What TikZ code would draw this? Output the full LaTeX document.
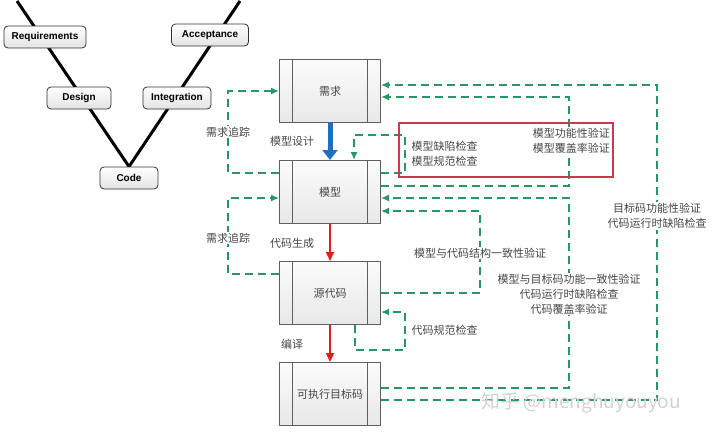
\documentclass[tikz,border=0pt]{standalone}
\usepackage{fontspec}
\setsansfont{Liberation Sans}
\newfontfamily\cjk{Noto Sans CJK SC}
\usepackage{xcolor}
\usetikzlibrary{arrows.meta,backgrounds}

\definecolor{tracegreen}{RGB}{38,150,100}
\definecolor{flowred}{RGB}{225,30,30}
\definecolor{flowblue}{RGB}{30,110,195}
\definecolor{chkred}{RGB}{195,60,80}
\definecolor{boxgray}{RGB}{95,95,95}
\definecolor{txtgray}{RGB}{70,70,70}

\tikzset{
  stage/.style={draw=boxgray, line width=1pt, top color=gray!3, bottom color=gray!18,
    minimum width=101pt, minimum height=63pt, inner sep=0pt,
    path picture={
      \draw[boxgray, line width=1pt] ([xshift=13pt]path picture bounding box.north west)
        -- ([xshift=13pt]path picture bounding box.south west);
      \draw[boxgray, line width=1pt] ([xshift=-13pt]path picture bounding box.north east)
        -- ([xshift=-13pt]path picture bounding box.south east);}},
  vbox/.style={draw=black!80, line width=0.8pt, rounded corners=4pt, top color=white,
    bottom color=gray!22, minimum height=22pt, inner sep=0pt, text=black,
    font=\sffamily\bfseries\fontsize{10}{12}\selectfont},
  vline/.style={line width=3pt, black},
  trace/.style={tracegreen, line width=1.4pt, dash pattern=on 8pt off 5pt},
  chkbox/.style={draw=chkred, line width=1.1pt, minimum width=214pt, minimum height=54pt},
  lbl/.style={fill=white, inner sep=1pt},
}

\begin{document}
\begin{tikzpicture}[x=1pt, y=-1pt, >={Latex[length=8pt,width=7pt]},
  every node/.style={font=\cjk\fontsize{11}{15}\selectfont, text=txtgray}]

  \useasboundingbox (0,0) rectangle (720,434);

  % --- column of stages ---
  \def\xbox{330}
  \def\yreq{91}
  \def\ymod{192}
  \def\ysrc{293}
  \def\yexe{394}

  % --- turning columns of the loops ---
  \def\xleft{228}
  \def\xin{405}
  \def\xmid{480}
  \def\xfar{569}
  \def\xout{657}

  % ============================================================
  % V-model
  % ============================================================
  \node[vbox, minimum width=82pt] (vreq) at (45,37) {Requirements};
  \node[vbox, minimum width=64pt] (vdes) at (79,98) {Design};
  \node[vbox, minimum width=58pt] (vcode) at (129,178) {Code};
  \node[vbox, minimum width=68pt] (vint) at (177,98) {Integration};
  \node[vbox, minimum width=77pt] (vacc) at (210,35) {Acceptance};

  \coordinate (vtopl) at (17,1);
  \coordinate (vtopr) at (240,1);
  \begin{scope}[on background layer]
    \draw[vline] (vtopl) -- (vcode.north) -- (vtopr);
  \end{scope}

  % ============================================================
  % Stages
  % ============================================================
  \node[stage] (req) at (\xbox,\yreq) {需求};
  \node[stage] (mod) at (\xbox,\ymod) {模型};
  \node[stage] (src) at (\xbox,\ysrc) {源代码};
  \node[stage] (exe) at (\xbox,\yexe) {可执行目标码};

  \draw[line width=5pt, flowblue, -{Triangle[length=10pt,width=15pt]}] (req) -- (mod);
  \draw[line width=1.5pt, flowred, -{Triangle[length=9pt,width=8pt]}] (mod) -- (src);
  \draw[line width=1.5pt, flowred, -{Triangle[length=9pt,width=8pt]}] (src) -- (exe);

  \node (tdes) at (292,141) {模型设计};
  \node (tgen) at (292,243) {代码生成};
  \node (tcmp) at (292,344) {编译};

  % ============================================================
  % Left: requirement tracing
  % ============================================================
  \draw[trace, ->] (mod.west |- 0,173) -| (\xleft,\yreq) -- (req.west);
  \draw[trace, ->] (src.west |- 0,274) -| (\xleft,198) -- (mod.west |- 0,198);

  \node[lbl] (trc1) at (\xleft,132) {需求追踪};
  \node[lbl] (trc2) at (\xleft,238) {需求追踪};

  % ============================================================
  % Right: checks and verification
  % ============================================================
  \draw[trace, ->] (exe.east |- 0,400) -| (\xout,85) -- (req.east |- 0,85);
  \draw[trace, ->] (mod.east |- 0,186) -| (\xfar,97) -- (req.east |- 0,97);
  \draw[trace, ->] (exe.east |- 0,388) -| (\xfar,198) -- (mod.east |- 0,198);
  \draw[trace, ->] (src.east |- 0,293) -| (\xmid,211) -- (mod.east |- 0,211);
  \draw[trace, ->] (mod.east |- 0,173) -| (\xin,135) -| (mod.north -| 354,0);
  \draw[trace, ->] (src.south -| 355,0) |- (\xin,350) |- (src.east |- 0,312);

  \node[chkbox] (mchk) at (506,150) {};

  \node[anchor=west, align=left] (tmdl) at (408,154) {模型缺陷检查\\模型规范检查};
  \node[lbl, anchor=east, align=right] (tmfn) at (611,141) {模型功能性验证\\模型覆盖率验证};
  \node[lbl] (tstr) at (\xmid,253) {模型与代码结构一致性验证};
  \node[lbl, align=center] (tobj) at (\xfar,294)
    {模型与目标码功能一致性验证\\代码运行时缺陷检查\\代码覆盖率验证};
  \node[lbl, align=center] (texe) at (\xout,216) {目标码功能性验证\\代码运行时缺陷检查};
  \node[anchor=west] (tcod) at (408,330) {代码规范检查};

  \node[anchor=west, text=gray!35, font=\cjk\fontsize{19}{20}\selectfont] (wmark)
    at (478,403) {知乎 @menghuyouyou};

\end{tikzpicture}
\end{document}
